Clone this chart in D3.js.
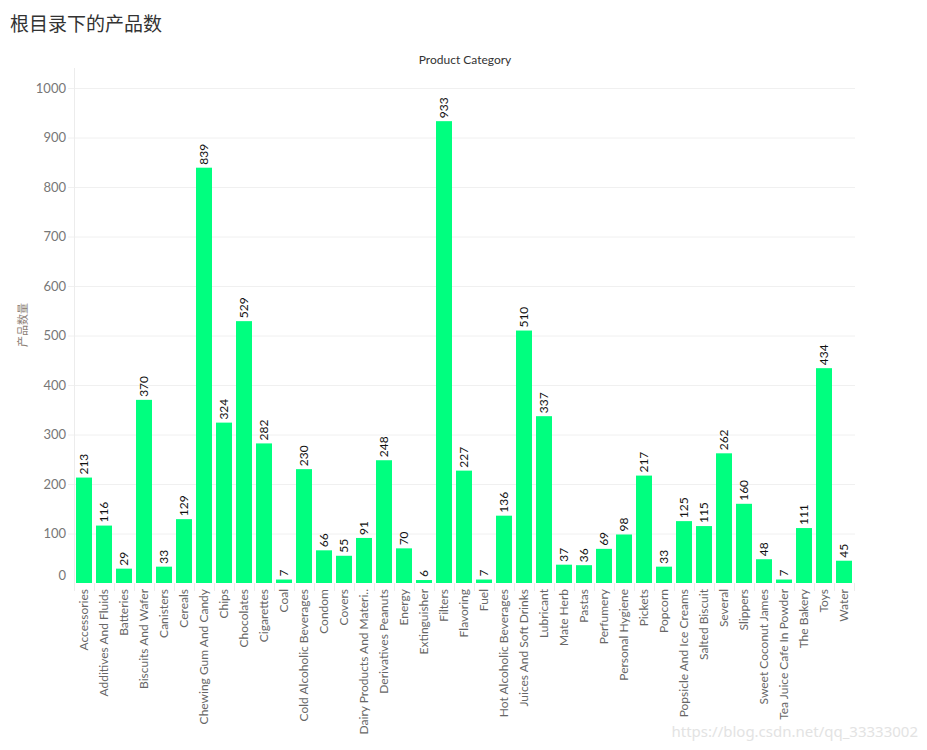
<!DOCTYPE html>
<html><head><meta charset="utf-8">
<script src="https://cdn.jsdelivr.net/npm/d3@7"></script>
<style>body{margin:0;background:#fff;}</style>
</head><body>
<svg id="c" width="927" height="750"></svg>
<script>
const categories = ["Accessories","Additives And Fluids","Batteries","Biscuits And Wafer","Canisters","Cereals","Chewing Gum And Candy","Chips","Chocolates","Cigarettes","Coal","Cold Alcoholic Beverages","Condom","Covers","Dairy Products And Materi..","Derivatives Peanuts","Energy","Extinguisher","Filters","Flavoring","Fuel","Hot Alcoholic Beverages","Juices And Soft Drinks","Lubricant","Mate Herb","Pastas","Perfumery","Personal Hygiene","Pickets","Popcorn","Popsicle And Ice Creams","Salted Biscuit","Several","Slippers","Sweet Coconut James","Tea Juice Cafe In Powder","The Bakery","Toys","Water"];
const counts = [213,116,29,370,33,129,839,324,529,282,7,230,66,55,91,248,70,6,933,227,7,136,510,337,37,36,69,98,217,33,125,115,262,160,48,7,111,434,45];
const yTicks = [0,100,200,300,400,500,600,700,800,900,1000];

const svg = d3.select("#c");
const mLeft = 74, mRight = 854, mTop = 68, mBottom = 583;
const x = d3.scaleBand().domain(categories).range([mLeft, mRight]).paddingInner(0.2).paddingOuter(0.1);
const y = d3.scaleLinear().domain([0, 1000]).range([mBottom, 88]);
const font = "Lato, 'Open Sans', sans-serif";

svg.append("text").attr("x", 10).attr("y", 31).text("根目录下的产品数")
  .attr("font-family", "'Noto Sans CJK SC'").attr("font-size", 19).attr("fill", "#333");

svg.append("text").attr("x", 465).attr("y", 64).attr("text-anchor", "middle").text("Product Category")
  .attr("font-family", font).attr("font-size", 12).attr("fill", "#333");

// gridlines
svg.append("g").selectAll("line").data(yTicks.filter(d => d > 0)).join("line")
  .attr("x1", 68).attr("x2", 855).attr("y1", d => y(d) + 0.5).attr("y2", d => y(d) + 0.5)
  .attr("stroke", "#f0f0f0");
// y axis line
svg.append("line").attr("x1", mLeft + 0.5).attr("x2", mLeft + 0.5).attr("y1", mTop).attr("y2", mBottom + 8)
  .attr("stroke", "#ececec");

// y axis labels
svg.append("g").selectAll("text").data(yTicks).join("text")
  .attr("x", 66).attr("y", d => d === 0 ? y(d) - 8 : y(d)).attr("dy", "0.35em")
  .attr("text-anchor", "end").text(d => d)
  .attr("font-family", font).attr("font-size", 13).attr("fill", "#777");

svg.append("text").attr("transform", "translate(27,325) rotate(-90)").attr("text-anchor", "middle")
  .text("产品数量").attr("font-family", "'Noto Sans CJK SC'").attr("font-size", 11).attr("fill", "#8b7e75");

// category separators
const step = x.step();
const sepX = d => Math.round(mLeft + x.paddingOuter() * step - x.paddingInner() * step / 2 + d * step) + 0.5;
svg.append("g").selectAll("line").data(d3.range(categories.length + 1)).join("line")
  .attr("x1", sepX).attr("x2", sepX)
  .attr("y1", mBottom).attr("y2", mBottom + 8).attr("stroke", "#ececec");

const data = categories.map((c, i) => ({c, v: counts[i]}));
svg.append("g").selectAll("rect").data(data).join("rect")
  .attr("x", d => x(d.c)).attr("width", x.bandwidth())
  .attr("y", d => y(d.v)).attr("height", d => mBottom - y(d.v))
  .attr("fill", "#00ff7f");

svg.append("g").selectAll("text").data(data).join("text")
  .attr("transform", d => `translate(${x(d.c) + x.bandwidth() / 2},${y(d.v) - 3}) rotate(-90)`)
  .attr("dy", "0.35em").text(d => d.v)
  .attr("font-family", font).attr("font-size", 12).attr("fill", "#111");

svg.append("g").selectAll("text").data(categories).join("text")
  .attr("transform", d => `translate(${x(d) + x.bandwidth() / 2},${mBottom + 6}) rotate(-90)`)
  .attr("dy", "0.35em").attr("text-anchor", "end").text(d => d)
  .attr("font-family", font).attr("font-size", 12).attr("fill", "#666");

svg.append("text").attr("x", 918).attr("y", 737).attr("text-anchor", "end")
  .text("https://blog.csdn.net/qq_33333002")
  .attr("font-family", "'Noto Sans', sans-serif").attr("font-size", 15).attr("fill", "#e3e3e3");
</script>
</body></html>
